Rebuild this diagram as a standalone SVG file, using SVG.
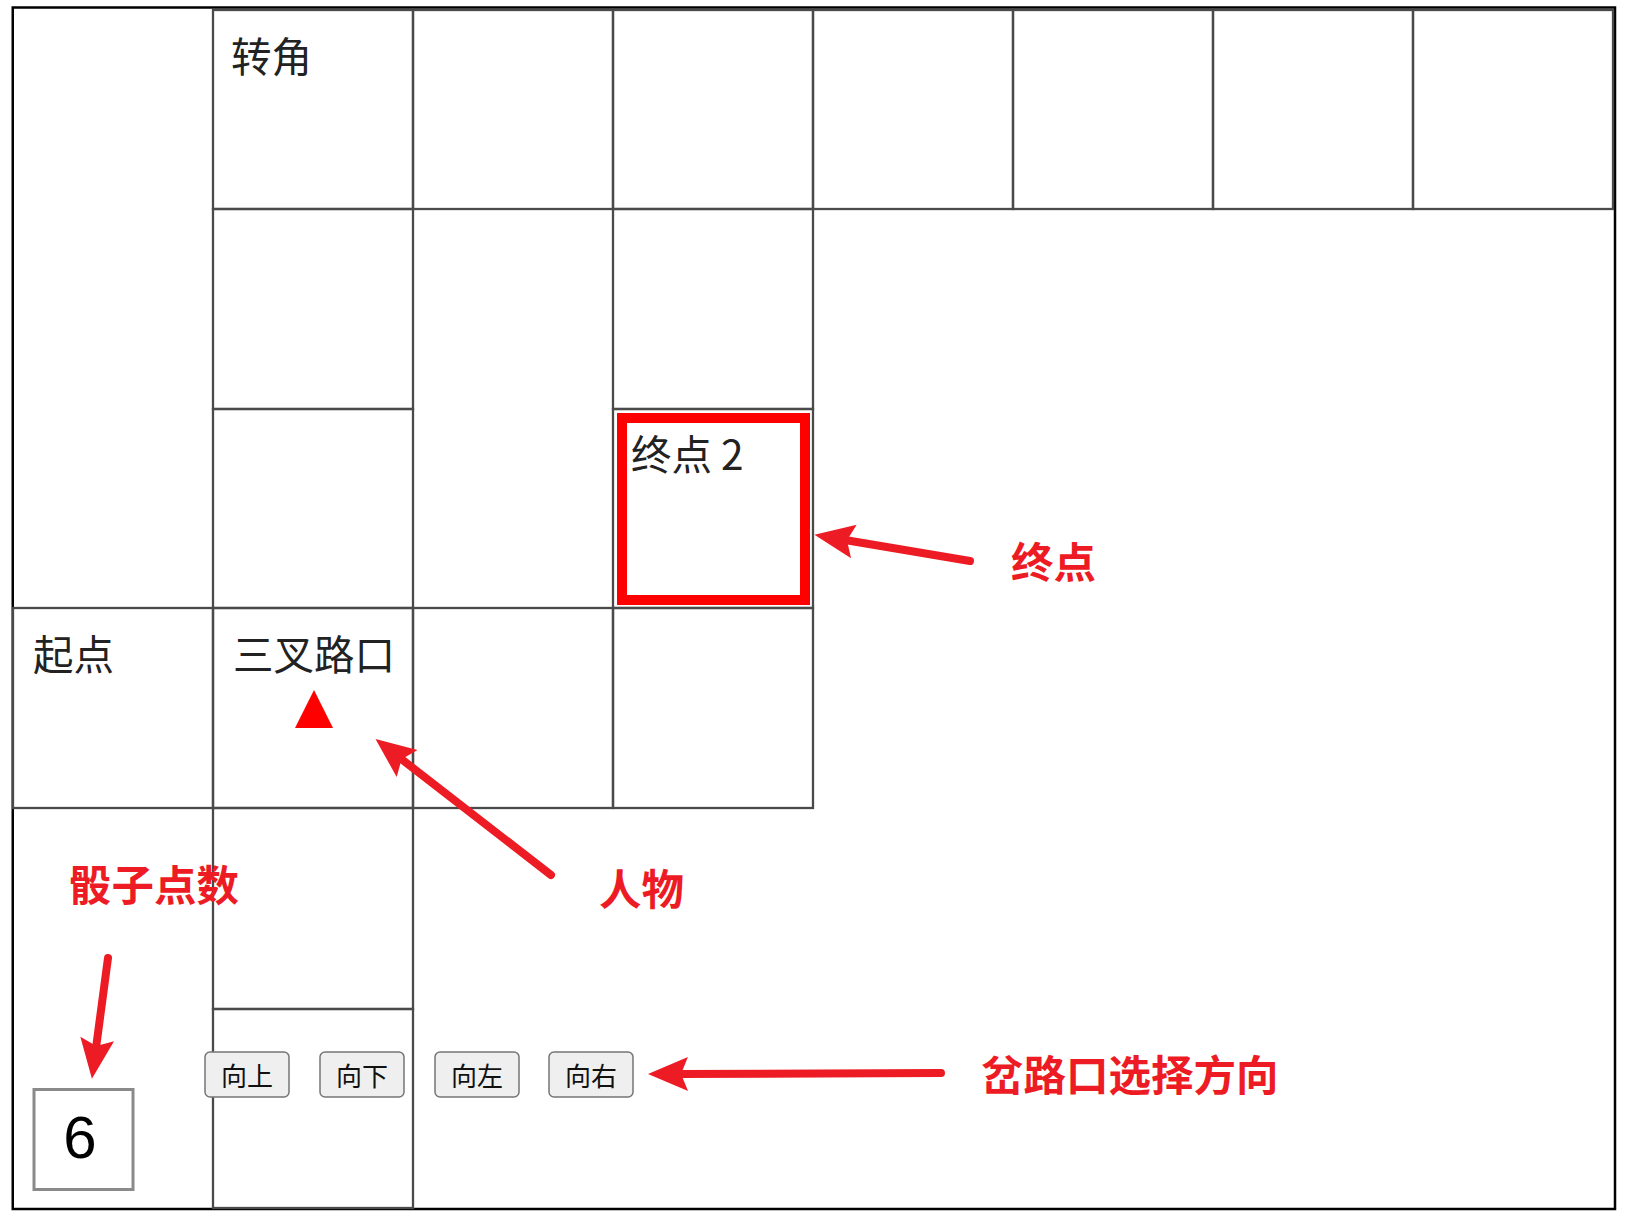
<svg xmlns="http://www.w3.org/2000/svg" width="1626" height="1222" viewBox="0 0 1626 1222">
<style>
  .cell { fill: none; stroke: #4a4a4a; stroke-width: 2.3; }
  .ctext { font-family: "Noto Sans CJK SC", "Liberation Sans", sans-serif; font-size: 40.5px; fill: #222; }
  .btn { fill: #efefef; stroke: #767676; stroke-width: 1.5; }
  .btext { font-family: "Noto Sans CJK SC", sans-serif; font-size: 26px; fill: #111; text-anchor: middle; }
  .note { font-family: "Noto Sans CJK SC", sans-serif; font-size: 42.5px; font-weight: bold; fill: #ed1c24; }
  .arrow { fill: none; stroke: #ed1c24; stroke-width: 8; stroke-linecap: round; marker-end: url(#head); }
</style>
<defs>
  <marker id="head" markerUnits="userSpaceOnUse" orient="auto" refX="0" refY="0" markerWidth="50" markerHeight="40" viewBox="-12 -20 50 40" overflow="visible">
    <path d="M31,0 L-9,-17 L-2,0 L-9,17 Z" fill="#ed1c24"/>
  </marker>
</defs>
<rect width="1626" height="1222" fill="#fff"/>
<rect id="frame" x="12.75" y="7.5" width="1602.25" height="1201.5" fill="none" stroke="#000" stroke-width="2.5"/>

<g id="row0">
  <g id="cell-corner"><rect class="cell" x="213" y="10" width="200" height="199"/><text class="ctext" x="231" y="72">转角</text></g>
  <g id="cell-r0c2"><rect class="cell" x="413" y="10" width="200" height="199"/></g>
  <g id="cell-r0c3"><rect class="cell" x="613" y="10" width="200" height="199"/></g>
  <g id="cell-r0c4"><rect class="cell" x="813" y="10" width="200" height="199"/></g>
  <g id="cell-r0c5"><rect class="cell" x="1013" y="10" width="200" height="199"/></g>
  <g id="cell-r0c6"><rect class="cell" x="1213" y="10" width="200" height="199"/></g>
  <g id="cell-r0c7"><rect class="cell" x="1413" y="10" width="200" height="199"/></g>
</g>
<g id="row1">
  <g id="cell-r1c1"><rect class="cell" x="213" y="209" width="200" height="200"/></g>
  <g id="cell-r1c3"><rect class="cell" x="613" y="209" width="200" height="200"/></g>
</g>
<g id="row2">
  <g id="cell-r2c1"><rect class="cell" x="213" y="409" width="200" height="199"/></g>
  <g id="cell-end">
    <rect class="cell" x="613" y="409" width="200" height="199"/>
    <rect x="622" y="418" width="183" height="182" fill="none" stroke="#ff0000" stroke-width="10"/>
    <text class="ctext" x="631" y="470">终点 2</text>
  </g>
</g>
<g id="row3">
  <g id="cell-start"><rect class="cell" x="13" y="608" width="200" height="200"/><text class="ctext" x="33" y="670">起点</text></g>
  <g id="cell-fork">
    <rect class="cell" x="213" y="608" width="200" height="200"/>
    <text class="ctext" x="233" y="670">三叉路口</text>
    <polygon id="player" points="314,690 295,728 333,728" fill="#ff0000"/>
  </g>
  <g id="cell-r3c2"><rect class="cell" x="413" y="608" width="200" height="200"/></g>
  <g id="cell-r3c3"><rect class="cell" x="613" y="608" width="200" height="200"/></g>
</g>
<g id="row4">
  <g id="cell-r4c1"><rect class="cell" x="213" y="808" width="200" height="201"/></g>
</g>
<g id="row5">
  <g id="cell-r5c1"><rect class="cell" x="213" y="1009" width="200" height="199"/></g>
</g>

<g id="dice">
  <rect x="34" y="1089.5" width="99" height="100" fill="#fff" stroke="#8a8a8a" stroke-width="3"/>
  <text x="80" y="1158" font-family="Liberation Sans, Arial, sans-serif" font-size="60" fill="#000" text-anchor="middle">6</text>
</g>

<g id="buttons">
  <g id="btn-up"><rect class="btn" x="205" y="1052" width="84" height="45" rx="5"/><text class="btext" x="247" y="1086">向上</text></g>
  <g id="btn-down"><rect class="btn" x="320" y="1052" width="84" height="45" rx="5"/><text class="btext" x="362" y="1086">向下</text></g>
  <g id="btn-left"><rect class="btn" x="435" y="1052" width="84" height="45" rx="5"/><text class="btext" x="477" y="1086">向左</text></g>
  <g id="btn-right"><rect class="btn" x="549" y="1052" width="84" height="45" rx="5"/><text class="btext" x="591" y="1086">向右</text></g>
</g>

<g id="labels">
  <text id="lbl-end" class="note" x="1011" y="578">终点</text>
  <text id="lbl-player" class="note" x="599" y="905">人物</text>
  <text id="lbl-dice" class="note" x="69" y="901">骰子点数</text>
  <text id="lbl-fork" class="note" x="981" y="1091">岔路口选择方向</text>
</g>

<g id="connectors">
  <line class="arrow" x1="970" y1="561" x2="845" y2="540"/>
  <line class="arrow" x1="551" y1="875" x2="400" y2="758"/>
  <line class="arrow" x1="108" y1="958" x2="96" y2="1048"/>
  <line class="arrow" x1="941" y1="1073" x2="679" y2="1074"/>
</g>
</svg>
